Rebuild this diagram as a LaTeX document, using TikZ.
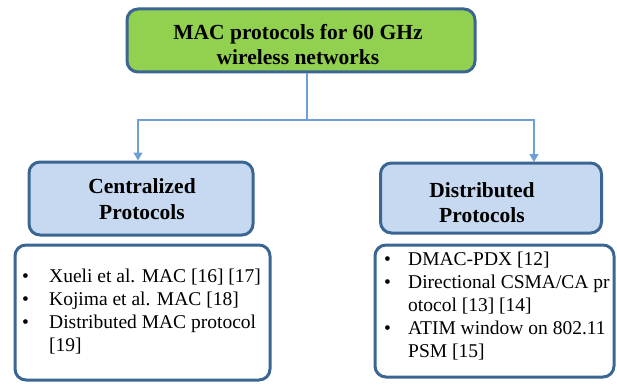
\documentclass[tikz,border=0pt]{standalone}
\usepackage{fontspec}
\setmainfont{Liberation Serif}
\usetikzlibrary{arrows.meta}
\definecolor{bordc}{HTML}{3B6693}
\definecolor{greenf}{HTML}{92D050}
\definecolor{bluef}{HTML}{C6D9F0}
\definecolor{linec}{HTML}{6E9FD6}
\tikzset{
  box/.style={draw=bordc, line width=3pt, rounded corners=11pt, inner sep=0pt},
  headtxt/.style={font=\fontsize{21.5}{25.5}\selectfont\bfseries, align=center, inner sep=0pt},
  listtxt/.style={font=\fontsize{19.5}{23}\selectfont, align=left, inner sep=0pt, anchor=north west},
  conn/.style={draw=linec, line width=1.3pt},
  tip/.style={-{Triangle[width=9pt,length=8pt]}}
}
\begin{document}
\begin{tikzpicture}[x=1pt,y=-1pt]
\useasboundingbox (0,0) rectangle (617,385);
\node[box, fill=greenf, minimum width=348pt, minimum height=63pt] (top) at (301,40.5) {};
\node[headtxt] (toptxt) at (298,44.5) {MAC protocols for 60 GHz\\wireless networks};
\node[box, fill=bluef, minimum width=224pt, minimum height=73pt] (cen) at (141,198.5) {};
\node[headtxt] (centxt) at (142,199) {Centralized\\Protocols};
\node[box, fill=bluef, minimum width=221pt, minimum height=70pt] (dis) at (491,198) {};
\node[headtxt] (distxt) at (482,202.5) {Distributed\\Protocols};
\node[box, fill=white, minimum width=255pt, minimum height=135pt] (cl) at (142.5,312.5) {};
\node[box, fill=white, minimum width=239pt, minimum height=132pt] (dl) at (494.5,311) {};
\node[listtxt] (clt) at (22,269) {\makebox[27pt][l]{\textbullet}Xueli et al. MAC [16] [17]\\
\makebox[27pt][l]{\textbullet}Kojima et al. MAC [18]\\
\makebox[27pt][l]{\textbullet}Distributed MAC protocol\\
\hspace*{27pt}[19]};
\node[listtxt] (dlt) at (384,252) {\makebox[24pt][l]{\textbullet}DMAC-PDX [12]\\
\makebox[24pt][l]{\textbullet}Directional CSMA/CA pr\\
\hspace*{24pt}otocol [13] [14]\\
\makebox[24pt][l]{\textbullet}ATIM window on 802.11\\
\hspace*{24pt}PSM [15]};
\coordinate (split) at (307,120);
\coordinate (rtop) at (534,162);
\draw[conn] (top.south -| split) -- (split);
\draw[conn, tip] (split) -| (cen.north -| 138,0);
\draw[conn, tip] (split) -| (rtop);
\end{tikzpicture}
\end{document}
